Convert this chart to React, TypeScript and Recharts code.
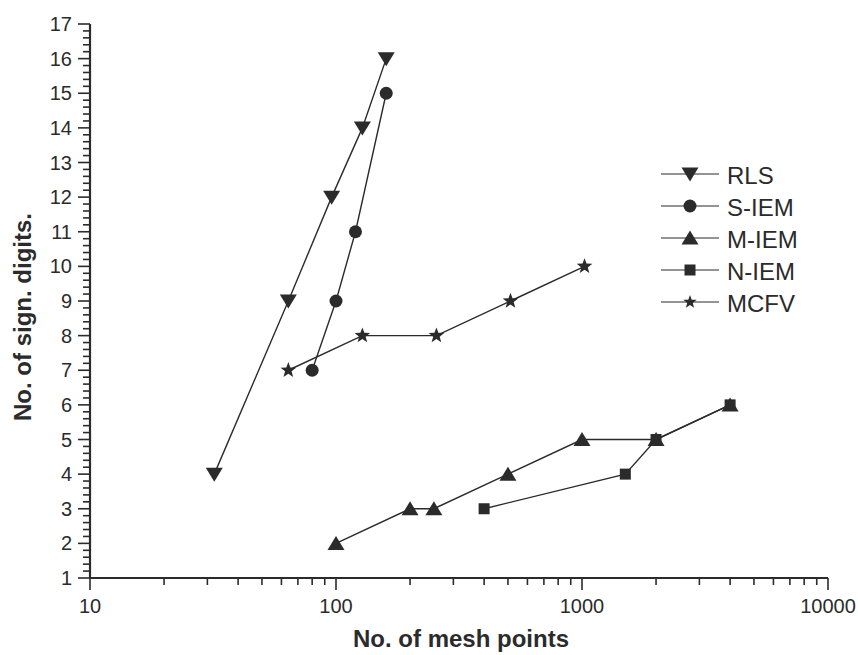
import { LineChart, Line, XAxis, YAxis, Legend, Label } from 'recharts';

// values
const rlsX = [32, 64, 96, 128, 160];
const rlsY = [4, 9, 12, 14, 16];
const siemX = [80, 100, 120, 160];
const siemY = [7, 9, 11, 15];
const miemX = [100, 200, 250, 500, 1000, 2000, 4000];
const miemY = [2, 3, 3, 4, 5, 5, 6];
const niemX = [400, 1500, 2000, 4000];
const niemY = [3, 4, 5, 6];
const mcfvX = [64, 128, 256, 512, 1024];
const mcfvY = [7, 8, 8, 9, 10];

const xMajor = [10, 100, 1000, 10000];
const yMajor = [1, 2, 3, 4, 5, 6, 7, 8, 9, 10, 11, 12, 13, 14, 15, 16, 17];

const xTicks: number[] = [];
xMajor.slice(0, 3).forEach(d => {
    for (let k = 1; k < 10; k++) xTicks.push(d * k);
});
xTicks.push(10000);

const yTicks: number[] = [];
yMajor.forEach((v, i) => {
    yTicks.push(v);
    if (i < yMajor.length - 1) {
        for (let k = 1; k < 5; k++) yTicks.push(+(v + k * 0.2).toFixed(1));
    }
});

const toPoints = (xs: number[], ys: number[]) => xs.map((x, i) => ({ x, y: ys[i] }));

const INK = '#2b2b2b';
const FONT = '"Liberation Sans", Arial, Helvetica, sans-serif';

type Kind = 'down' | 'circle' | 'up' | 'square' | 'star';

const series: { name: string, kind: Kind, data: { x: number, y: number }[] }[] = [
    { name: 'RLS', kind: 'down', data: toPoints(rlsX, rlsY) },
    { name: 'S-IEM', kind: 'circle', data: toPoints(siemX, siemY) },
    { name: 'M-IEM', kind: 'up', data: toPoints(miemX, miemY) },
    { name: 'N-IEM', kind: 'square', data: toPoints(niemX, niemY) },
    { name: 'MCFV', kind: 'star', data: toPoints(mcfvX, mcfvY) },
];

function Marker({ kind, cx, cy, small = false }: { kind: Kind, cx: number, cy: number, small?: boolean }) {
    if (kind === 'down') {
        return <polygon points={`${cx - 8.5},${cy - 6.5} ${cx + 8.5},${cy - 6.5} ${cx},${cy + 7.5}`} fill={INK} />;
    }
    if (kind === 'up') {
        return <polygon points={`${cx},${cy - 7.5} ${cx - 8.5},${cy + 6.5} ${cx + 8.5},${cy + 6.5}`} fill={INK} />;
    }
    if (kind === 'circle') return <circle cx={cx} cy={cy} r={6.5} fill={INK} />;
    if (kind === 'square') return <rect x={cx - 5.5} y={cy - 5.5} width={11} height={11} fill={INK} />;
    // five point star
    const outer = small ? 7 : 8.2;
    const inner = small ? 2.9 : 3.4;
    const pts: string[] = [];
    for (let i = 0; i < 10; i++) {
        const r = i % 2 === 0 ? outer : inner;
        const a = -Math.PI / 2 + (i * Math.PI) / 5;
        pts.push(`${cx + r * Math.cos(a)},${cy + r * Math.sin(a)}`);
    }
    return <polygon points={pts.join(' ')} fill={INK} />;
}

function XTick({ x, y, payload }: any) {
    const v = payload.value;
    const major = Math.abs(Math.log10(v) - Math.round(Math.log10(v))) < 1e-9;
    return (
        <g>
            <line x1={x} x2={x} y1={y} y2={y + (major ? 12 : 7)} stroke={INK} strokeWidth={1.6} />
            {major && (
                <text x={x} y={y + 35} textAnchor="middle" fontSize={20} fontFamily={FONT} fill={INK}>{v}</text>
            )}
        </g>
    );
}

function YTick({ x, y, payload }: any) {
    const v = payload.value;
    const major = Math.abs(v - Math.round(v)) < 1e-6;
    return (
        <g>
            <line x1={x - (major ? 12 : 7)} x2={x} y1={y} y2={y} stroke={INK} strokeWidth={1.6} />
            {major && (
                <text x={x - 18} y={y} textAnchor="end" dominantBaseline="central" fontSize={20} fontFamily={FONT} fill={INK}>{v}</text>
            )}
        </g>
    );
}

function LegendBox() {
    return (
        <svg width={200} height={170}>
            {series.map((s, i) => {
                const cy = 19 + i * 32;
                return (
                    <g key={s.name}>
                        <line x1={6} x2={64} y1={cy} y2={cy} stroke={INK} strokeWidth={1.2} />
                        <Marker kind={s.kind} cx={35} cy={cy} small />
                        <text x={72} y={cy + 1} dominantBaseline="central" fontSize={24} fontFamily={FONT} fill={INK}>{s.name}</text>
                    </g>
                );
            })}
        </svg>
    );
}

export default function App() {
    return (
        <div style={{ position: 'absolute', left: 0, top: 0, width: 858, height: 655, background: '#fff' }}>
            <LineChart width={858} height={655} margin={{ top: 24, right: 30, bottom: 0, left: 0 }}>
                <XAxis
                    dataKey="x"
                    type="number"
                    scale="log"
                    domain={[10, 10000]}
                    ticks={xTicks}
                    interval={0}
                    height={77}
                    tickSize={0}
                    tickMargin={0}
                    tickLine={false}
                    tick={<XTick />}
                    axisLine={{ stroke: INK, strokeWidth: 2.2 }}
                    allowDataOverflow
                >
                    <Label
                        content={() => (
                            <text x={461} y={647} textAnchor="middle" fontSize={24} fontWeight="bold" fontFamily={FONT} fill={INK}>
                                No. of mesh points
                            </text>
                        )}
                    />
                </XAxis>
                <YAxis
                    dataKey="y"
                    type="number"
                    domain={[1, 17]}
                    ticks={yTicks}
                    interval={0}
                    width={90}
                    tickSize={0}
                    tickMargin={0}
                    tickLine={false}
                    tick={<YTick />}
                    axisLine={{ stroke: INK, strokeWidth: 2.2 }}
                    allowDataOverflow
                >
                    <Label
                        content={() => (
                            <text
                                x={0}
                                y={0}
                                transform="translate(31 317) rotate(-90)"
                                textAnchor="middle"
                                fontSize={24}
                                fontWeight="bold"
                                fontFamily={FONT}
                                fill={INK}
                            >
                                No. of sign. digits.
                            </text>
                        )}
                    />
                </YAxis>
                <Legend
                    layout="vertical"
                    align="center"
                    verticalAlign="middle"
                    content={() => <LegendBox />}
                    wrapperStyle={{ left: 655, top: 155, width: 200, height: 170 }}
                />
                {series.map(s => (
                    <Line
                        key={s.name}
                        name={s.name}
                        data={s.data}
                        dataKey="y"
                        type="linear"
                        stroke={INK}
                        strokeWidth={1.4}
                        isAnimationActive={false}
                        dot={(p: any) => <Marker key={`${s.name}-${p.index}`} kind={s.kind} cx={p.cx} cy={p.cy} />}
                        activeDot={false}
                    />
                ))}
            </LineChart>
        </div>
    );
}
